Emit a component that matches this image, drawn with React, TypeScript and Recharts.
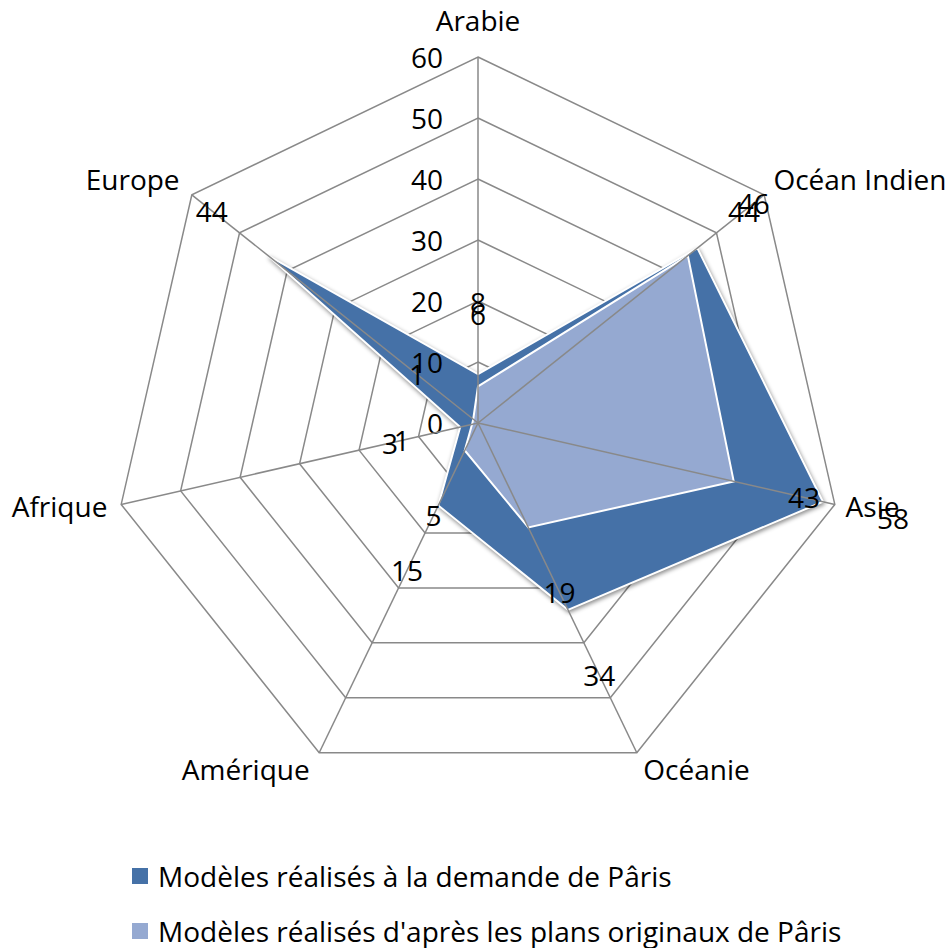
import { Legend, PolarAngleAxis, PolarGrid, PolarRadiusAxis, Radar, RadarChart } from "recharts";

const CATEGORIES = ["Arabie", "Océan Indien", "Asie", "Océanie", "Amérique", "Afrique", "Europe"];
const DEMANDE = [8, 46, 58, 34, 15, 3, 44];
const PLANS = [6, 44, 43, 19, 5, 1, 1];
const RADIUS_TICKS = [0, 10, 20, 30, 40, 50, 60];

const SERIES_DEMANDE = "Modèles réalisés à la demande de Pâris";
const SERIES_PLANS = "Modèles réalisés d'après les plans originaux de Pâris";

const DARK = "#4571A7";
const LIGHT = "#95A9D1";
const GRID = "#898989";
const FONT = "'Open Sans', sans-serif";
const FS = 28;

const CX = 478;
const CY = 423;
const R = 366;
const RAD = Math.PI / 180;

const data = CATEGORIES.map((name, i) => ({ name, demande: DEMANDE[i], plans: PLANS[i] }));
const legendItems = [
  { name: SERIES_DEMANDE, color: DARK },
  { name: SERIES_PLANS, color: LIGHT },
];

// category names around the outside
function AngleTick(props: any) {
  const { x, y, payload, textAnchor } = props;
  let dy = 8 + 0.035 * (y - CY);
  const dx = textAnchor === "start" ? 3 : textAnchor === "end" ? -6 : 0;
  if (textAnchor === "middle") dy = -18;
  return (
    <text x={x + dx} y={y + dy} textAnchor={textAnchor} fontFamily={FONT} fontSize={FS} fill="#000">
      {payload.value}
    </text>
  );
}

function RadiusTick(props: any) {
  const { x, y, payload } = props;
  return (
    <text x={x - 35} y={y} textAnchor="end" dominantBaseline="central" fontFamily={FONT} fontSize={FS} fill="#000">
      {payload.value}
    </text>
  );
}

// Excel puts the data labels well outside the points, along the spoke
function ValueLabel(props: any) {
  const { cx, cy, payload, index, dataKey } = props;
  let value = props.value;
  if (value == null || typeof value === "object") value = payload?.value;
  if (value == null || typeof value === "object") value = payload?.payload?.[dataKey] ?? payload?.[dataKey];
  const a = 90 - (index * 360) / CATEGORIES.length;
  const lx = cx + Math.cos(-a * RAD) * 72;
  const ly = cy + Math.sin(-a * RAD) * 72;
  return (
    <text key={`lbl-${dataKey}-${index}`} x={lx} y={ly} textAnchor="middle" dominantBaseline="central" fontFamily={FONT} fontSize={FS} fill="#000" stroke="none">
      {String(value)}
    </text>
  );
}

function LegendBox() {
  return (
    <div style={{ fontFamily: FONT, fontSize: FS, color: "#000" }}>
      {legendItems.map((it) => (
        <div key={it.name} style={{ display: "flex", alignItems: "center", height: 55, whiteSpace: "nowrap" }}>
          <span style={{ width: 16, height: 16, background: it.color, marginRight: 10, display: "inline-block", flexShrink: 0 }} />
          <span>{it.name}</span>
        </div>
      ))}
    </div>
  );
}

export default function App() {
  return (
    <div style={{ position: "absolute", left: 0, top: 0, width: 947, height: 948, background: "#fff", overflow: "hidden" }}>
      <style>{`.dark-radar .recharts-radar-polygon path { filter: drop-shadow(1px 2px 2px rgba(0,0,0,0.45)); }`}</style>
      <RadarChart
        width={947}
        height={948}
        data={data}
        cx={CX}
        cy={CY}
        outerRadius={R}
        margin={{ top: 0, right: 0, bottom: 0, left: 0 }}
      >
        <PolarGrid gridType="polygon" radialLines={false} stroke={GRID} strokeWidth={1.5} />
        <PolarAngleAxis dataKey="name" tick={<AngleTick />} tickLine={false} axisLine={false} />
        <PolarRadiusAxis
          angle={90}
          domain={[0, 60]}
          ticks={RADIUS_TICKS as any}
          tickCount={RADIUS_TICKS.length}
          axisLine={false}
          tick={<RadiusTick />}
        />
        <Radar
          className="dark-radar"
          name={SERIES_DEMANDE}
          dataKey="demande"
          fill={DARK}
          fillOpacity={1}
          stroke="#fff"
          strokeWidth={2}
          dot={(p: any) => <ValueLabel {...p} />}
          isAnimationActive={false}
        />
        <Radar
          name={SERIES_PLANS}
          dataKey="plans"
          fill={LIGHT}
          fillOpacity={1}
          stroke="#fff"
          strokeWidth={2}
          dot={(p: any) => <ValueLabel {...p} />}
          isAnimationActive={false}
        />
        <PolarGrid gridType="polygon" polarRadius={[]} stroke={GRID} strokeWidth={1.5} zIndex={600} />
        <Legend
          content={<LegendBox />}
          verticalAlign="bottom"
          wrapperStyle={{ position: "absolute", left: 132, top: 848, width: 800, bottom: "auto" }}
        />
      </RadarChart>
    </div>
  );
}
